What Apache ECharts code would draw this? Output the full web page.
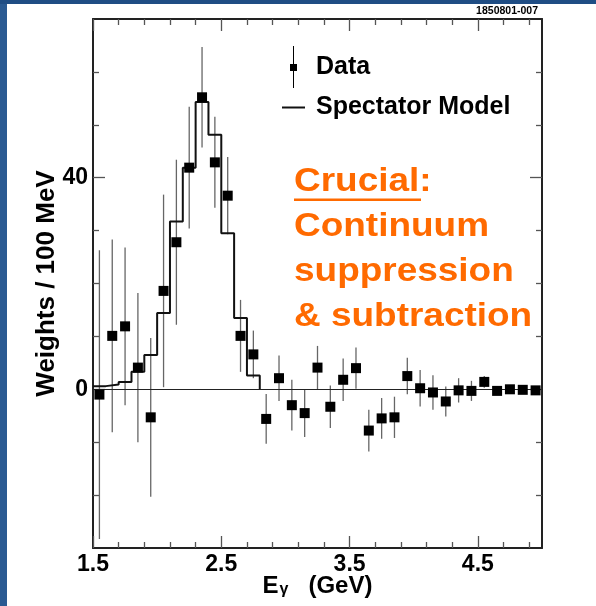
<!DOCTYPE html>
<html>
<head>
<meta charset="utf-8">
<script src="https://cdn.jsdelivr.net/npm/echarts@6/dist/echarts.min.js"></script>
<style>html,body{margin:0;padding:0;background:#fff;}#c{width:596px;height:606px;}</style>
</head>
<body>
<div id="c"></div>
<script>
// ---- data ----
const energies = [1.55,1.65,1.75,1.85,1.95,2.05,2.15,2.25,2.35,2.45,2.55,2.65,2.75,2.85,2.95,3.05,3.15,3.25,3.35,3.45,3.55,3.65,3.75,3.85,3.95,4.05,4.15,4.25,4.35,4.45,4.55,4.65,4.75,4.85,4.95];
const dataValues = [-1.0,10.1,11.9,4.1,-5.3,18.6,27.8,41.9,55.2,42.9,36.6,10.1,6.6,-5.6,2.1,-3.0,-4.5,4.1,-3.3,1.8,4.0,-7.8,-5.5,-5.3,2.5,0.2,-0.6,-2.3,-0.2,-0.3,1.4,-0.3,0.0,-0.1,-0.2];
const dataErrors = [27.3,18.2,14.9,14.1,15.0,18.2,15.6,11.5,9.5,8.6,7.3,6.8,4.5,4.7,4.3,4.8,4.5,4.1,4.0,4.0,3.9,3.95,3.85,3.9,3.45,3.45,3.25,2.85,2.3,1.9,1.1,0.8,0.7,0.7,0.6];
const modelEdges = [1.5,1.6,1.7,1.8,1.9,2.0,2.1,2.2,2.3,2.4,2.5,2.6,2.7,2.8];
const modelValues = [0.6,0.9,1.4,3.3,6.5,14.4,31.7,41.9,54.3,48.1,29.5,13.5,2.6];
const xMajorTicks = [1.5,2.5,3.5,4.5];
const xMinorTicks = [1.7,1.9,2.1,2.3,2.7,2.9,3.1,3.3,3.7,3.9,4.1,4.3,4.7,4.9];
const yMajorTicks = [0,40];
const yMinorTicks = [-20,-10,10,20,30,50,60];
const textLines = ['Crucial:','Continuum','suppression','& subtraction'];

const FONT = "'Liberation Sans', Arial, Helvetica, sans-serif";
const X_MIN = 1.5, X_MAX = 5.0, Y_MIN = -30, Y_MAX = 70;
const frameColor = '#222';
const tickStyle = {color:'#555', width:1.3};

function xAx(pos, ticks, len, showLine, labels, extra) {
  return Object.assign({
    type:'value', position:pos, min:X_MIN, max:X_MAX,
    axisLine:{show:showLine, onZero:false, lineStyle:{color:frameColor, width:2}},
    axisTick:{show:true, inside:true, length:len, customValues:ticks, lineStyle:tickStyle},
    axisLabel: labels ? {show:true, customValues:labels, color:'#000', fontSize:23, fontWeight:'bold', fontFamily:FONT, margin:5, showMinLabel:true, hideOverlap:false} : {show:false},
    splitLine:{show:false}
  }, extra||{});
}
function yAx(pos, ticks, len, showLine, labels, extra) {
  return Object.assign({
    type:'value', position:pos, min:Y_MIN, max:Y_MAX,
    axisLine:{show:showLine, onZero:false, lineStyle:{color:frameColor, width:2}},
    axisTick:{show:true, inside:true, length:len, customValues:ticks, lineStyle:tickStyle},
    axisLabel: labels ? {show:true, customValues:labels, color:'#000', fontSize:23, fontWeight:'bold', fontFamily:FONT, margin:5} : {show:false},
    splitLine:{show:false}
  }, extra||{});
}

const chart = echarts.init(document.getElementById('c'), null, {renderer:'canvas'});
const option = {
  animation:false,
  backgroundColor:'#fff',
  grid:{left:93, top:19, right:54, bottom:58, containLabel:false},
  xAxis:[
    xAx('bottom', xMinorTicks, 6, true, xMajorTicks, {
      name:'{e|E}{g|γ}{s|}(GeV)', nameLocation:'middle', nameGap:26, nameMoveOverlap:false,
      nameTextStyle:{color:'#000', fontFamily:FONT, fontWeight:'bold', fontSize:24,
        rich:{e:{fontSize:24, fontWeight:'bold', fontFamily:FONT, color:'#000'},
              g:{fontSize:16, fontFamily:FONT, color:'#000', padding:[7,0,0,1]},
              s:{width:20}}}
    }),
    xAx('bottom', xMajorTicks, 12, false, null),
    xAx('top', xMinorTicks, 6, true, null),
    xAx('top', xMajorTicks, 12, false, null)
  ],
  yAxis:[
    yAx('left', yMinorTicks, 6, true, yMajorTicks, {
      name:'Weights / 100 MeV', nameLocation:'middle', nameGap:33, nameRotate:90, nameMoveOverlap:false,
      nameTextStyle:{color:'#000', fontFamily:FONT, fontWeight:'bold', fontSize:26}
    }),
    yAx('left', yMajorTicks, 12, false, null),
    yAx('right', yMinorTicks, 6, true, null),
    yAx('right', yMajorTicks, 12, false, null)
  ],
  legend:{
    show:true, orient:'vertical', left:277, top:41, itemWidth:23, itemHeight:42, itemGap:7,
    selectedMode:false,
    textStyle:{color:'#000', fontSize:25, fontWeight:'bold', fontFamily:FONT, padding:[5,0,0,6]},
    data:[
      {name:'Data', icon:'path://M3,0 L4,0 L4,18 L7,18 L7,25 L4,25 L4,42 L3,42 L3,25 L0,25 L0,18 L3,18 Z'},
      {name:'Spectator Model', icon:'path://M0,0 L23,0 L23,2 L0,2 Z'}
    ]
  },
  series:[
    {
      name:'Data errors', type:'custom', xAxisIndex:0, yAxisIndex:0, z:3,
      data: energies.map((e,i)=>[e, dataValues[i]-dataErrors[i], dataValues[i]+dataErrors[i]]),
      encode:{x:0, y:[1,2]},
      renderItem:function(params, api){
        const p1 = api.coord([api.value(0), api.value(1)]);
        const p2 = api.coord([api.value(0), api.value(2)]);
        return {type:'line', shape:{x1:p1[0], y1:p1[1], x2:p2[0], y2:p2[1]},
                style:{stroke:'#666', lineWidth:1.3}};
      }
    },
    {
      name:'Spectator Model', type:'line', xAxisIndex:0, yAxisIndex:0, z:4,
      step:'end', showSymbol:false, symbol:'none', color:'#111',
      lineStyle:{color:'#111', width:2},
      data: modelEdges.map((x,i)=>[x, i<modelValues.length ? modelValues[i] : 0]),
      markLine:{silent:true, symbol:['none','none'], label:{show:false},
        lineStyle:{color:'#222', width:1.2, type:'solid'}, data:[{yAxis:0}]}
    },
    {
      name:'Data', type:'scatter', xAxisIndex:0, yAxisIndex:0, z:5,
      symbol:'rect', symbolSize:10, color:'#000', itemStyle:{color:'#000', opacity:1},
      data: energies.map((e,i)=>[e, dataValues[i]])
    }
  ],
  graphic:[
    {type:'rect', z:-10, shape:{x:0, y:0, width:7, height:606}, style:{fill:'#2a5a92'}},
    {type:'rect', z:-10, shape:{x:0, y:0, width:596, height:4}, style:{fill:'#1f4d84'}},
    {type:'text', x:538, y:11, style:{text:'1850801-007', fill:'#000', font:"bold 10.5px "+FONT, textAlign:'right', textVerticalAlign:'middle'}},
    {type:'text', x:294, y:160, scaleX:1.12, originX:0, originY:0,
      style:{text:textLines.join('\n'), fill:'#ff6a00', font:"bold 33px "+FONT, lineHeight:44.8, textAlign:'left', textVerticalAlign:'top'}},
    {type:'rect', shape:{x:294, y:198.5, width:127, height:2.5}, style:{fill:'#ff6a00'}}
  ]
};
chart.setOption(option);
</script>
</body>
</html>
